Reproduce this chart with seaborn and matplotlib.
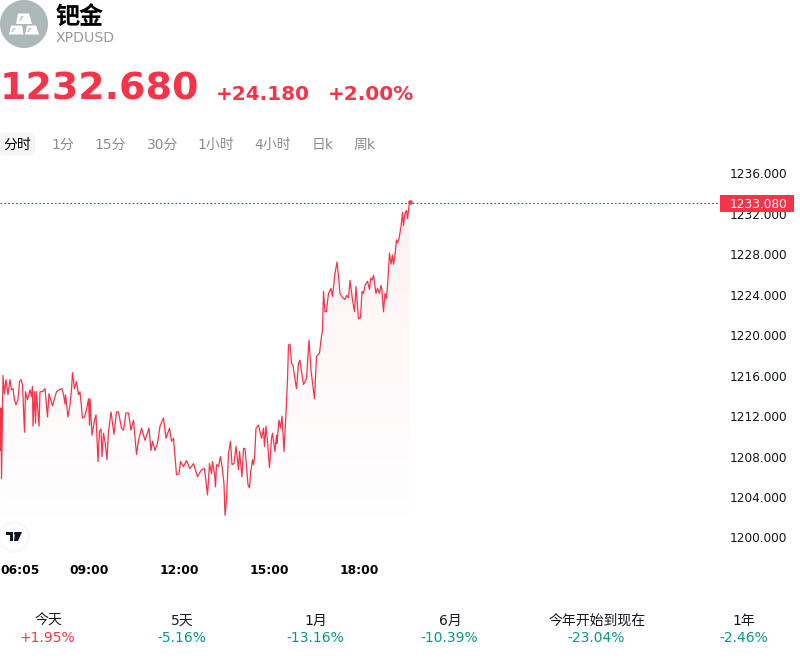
import numpy as np
import seaborn as sns
import matplotlib.pyplot as plt
from matplotlib.patches import Circle, FancyBboxPatch, Polygon, Rectangle
from matplotlib.colors import LinearSegmentedColormap

# minutes since midnight
minutes = [364, 365, 366, 369, 372, 375, 379, 383, 386, 389, 392, 395, 399, 402, 405, 408, 412, 414, 418, 423,
           426, 428, 429, 432, 434, 436, 441, 443, 448, 453, 458, 461, 468, 476, 482, 487, 490, 493, 494, 499,
           503, 506, 508, 512, 516, 520, 523, 528, 532, 536, 540, 542, 543, 547, 552, 555, 559, 562, 565, 567,
           570, 573, 577, 580, 585, 591, 596, 600, 606, 610, 615, 620, 625, 630, 636, 640, 646, 653, 661, 665,
           668, 673, 678, 683, 690, 695, 702, 706, 710, 716, 721, 724, 730, 736, 743, 750, 758, 766, 772, 778,
           782, 786, 788, 792, 794, 796, 800, 804, 808, 811, 813, 816, 820, 824, 827, 831, 835, 840, 842, 847,
           850, 853, 856, 859, 862, 864, 868, 870, 872, 875, 880, 886, 890, 892, 895, 898, 902, 906, 908, 913,
           916, 917, 921, 924, 927, 931, 935, 938, 940, 943, 946, 949, 953, 956, 960, 963, 966, 970, 976, 981,
           985, 992, 996, 1002, 1005, 1008, 1010, 1013, 1016, 1018, 1020, 1025, 1028, 1033, 1037, 1040, 1043,
           1048, 1053, 1056, 1060, 1063, 1066, 1068, 1072, 1075, 1080, 1084, 1087, 1090, 1093, 1098, 1102, 1104,
           1107, 1110, 1115, 1118, 1122, 1125, 1127, 1130, 1133, 1136, 1139, 1142, 1145, 1148, 1150, 1153, 1156,
           1158, 1161, 1165, 1168, 1170, 1173, 1176, 1178, 1182]
prices = [1208.6, 1212.8, 1205.8, 1216.0, 1214.2, 1215.6, 1214.1, 1215.6, 1214.6, 1214.7, 1213.6, 1213.1, 1213.6,
          1215.4, 1215.6, 1215.1, 1210.4, 1214.4, 1213.6, 1214.6, 1213.9, 1214.9, 1211.0, 1214.4, 1211.3, 1214.4,
          1211.0, 1214.4, 1214.4, 1214.7, 1211.9, 1214.2, 1213.0, 1214.4, 1214.6, 1214.7, 1214.1, 1213.2, 1214.1,
          1211.9, 1213.1, 1214.6, 1216.3, 1214.7, 1215.4, 1214.1, 1214.4, 1211.8, 1211.9, 1212.6, 1213.7, 1211.1,
          1213.7, 1210.1, 1211.6, 1212.1, 1207.5, 1210.5, 1210.7, 1208.0, 1210.3, 1209.5, 1207.7, 1210.5, 1212.4,
          1210.2, 1212.4, 1212.4, 1210.8, 1210.6, 1212.3, 1212.3, 1210.6, 1211.6, 1208.2, 1209.6, 1210.8, 1209.6,
          1210.8, 1208.6, 1209.5, 1208.6, 1209.3, 1211.0, 1211.8, 1209.8, 1210.8, 1209.5, 1209.8, 1206.2, 1206.3,
          1207.5, 1207.0, 1207.6, 1206.8, 1207.3, 1206.0, 1206.7, 1206.8, 1204.2, 1207.3, 1206.3, 1207.5, 1206.3,
          1205.0, 1207.2, 1207.0, 1208.0, 1206.7, 1205.3, 1202.2, 1203.7, 1208.3, 1209.5, 1207.2, 1207.3, 1209.0,
          1206.7, 1208.5, 1206.0, 1208.8, 1208.8, 1207.0, 1205.2, 1204.9, 1206.3, 1207.7, 1207.2, 1207.8, 1210.8,
          1211.1, 1209.8, 1210.8, 1209.0, 1211.0, 1209.5, 1206.9, 1209.8, 1210.3, 1208.5, 1210.1, 1209.3, 1211.6,
          1210.8, 1212.0, 1208.5, 1212.3, 1215.6, 1219.0, 1219.1, 1217.2, 1217.0, 1215.6, 1214.7, 1217.2, 1217.5,
          1216.4, 1215.1, 1215.7, 1219.5, 1216.5, 1213.7, 1217.9, 1218.2, 1219.5, 1220.5, 1224.3, 1222.3, 1222.3,
          1223.3, 1224.1, 1224.6, 1223.8, 1226.1, 1227.2, 1225.8, 1224.1, 1223.7, 1223.5, 1223.9, 1223.7, 1225.4,
          1224.3, 1223.5, 1222.3, 1224.8, 1221.6, 1221.7, 1224.3, 1224.1, 1224.9, 1225.3, 1224.5, 1225.6, 1225.4,
          1225.9, 1224.1, 1224.6, 1224.1, 1224.9, 1224.4, 1222.3, 1224.1, 1223.6, 1225.6, 1228.1, 1227.0, 1227.9,
          1227.0, 1227.9, 1229.4, 1229.1, 1229.5, 1230.7, 1232.1, 1230.8, 1232.0, 1232.3, 1231.5, 1233.1]

y_ticks = [1200, 1204, 1208, 1212, 1216, 1220, 1224, 1228, 1232, 1236]
x_ticks = [363, 541, 721, 901, 1081]
x_labels = ['06:05', '09:00', '12:00', '15:00', '18:00']
tabs = ['分时', '1分', '15分', '30分', '1小时', '4小时', '日k', '周k']
tab_x = [4, 52, 95, 147, 198, 255, 312, 354]
periods = ['今天', '5天', '1月', '6月', '今年开始到现在', '1年']
changes = ['+1.95%', '-5.16%', '-13.16%', '-10.39%', '-23.04%', '-2.46%']
period_x = [48, 182, 316, 450, 597, 744]
last_price = 1233.08

RED = '#f5344a'
GREEN = '#089981'
DARK = '#131722'

sns.set_theme(style='white')
plt.rcParams['font.family'] = ['DejaVu Sans', 'Noto Sans CJK SC']

fig = plt.figure(figsize=(8, 6.58), dpi=100)

# price chart: 2 minutes per pixel, 10.125 pixels per dollar
ax = fig.add_axes([0, 1 - 558 / 658, 1, (558 - 160) / 658])
ax.patch.set_alpha(0)
sns.lineplot(x=minutes, y=prices, ax=ax, color=RED, linewidth=0.9, errorbar=None, zorder=3)

# area under the line fades out towards the bottom
poly = ax.fill_between(minutes, prices, 1200, color='none')
fade = LinearSegmentedColormap.from_list('fade', [(0.961, 0.204, 0.29, 0.07), (0.961, 0.204, 0.29, 0.0)])
img = ax.imshow(np.linspace(0, 1, 256).reshape(-1, 1), cmap=fade, aspect='auto', origin='upper',
                extent=[363, 1182, 1200, 1233.1], zorder=2)
img.set_clip_path(poly.get_paths()[0], transform=ax.transData)
ax.set_xlim(363, 363 + 1600)
ax.set_ylim(1200 - 20.5 / 10.125, 1200 + 377.5 / 10.125)
ax.set_xlabel('')
ax.set_ylabel('')

ax.axhline(last_price, xmax=720 / 800, color='#8a3a45', linewidth=0.8, dashes=(1.5, 2), zorder=2)
ax.scatter([minutes[-1]], [prices[-1]], s=11, color=RED, zorder=4, linewidths=0)

ax.set_yticks(y_ticks)
ax.set_yticklabels([f'{v:.3f}' for v in y_ticks])
ax.yaxis.tick_right()
ax.tick_params(axis='y', length=0, pad=-50.6, labelsize=8.7, labelcolor=DARK)
ax.set_xticks(x_ticks)
ax.set_xticklabels(x_labels, fontweight='bold')
ax.tick_params(axis='x', length=0, pad=4.5, labelsize=8.8, labelcolor='black')
ax.get_xticklabels()[0].set_ha('left')
sns.despine(ax=ax, left=True, bottom=True, right=True, top=True)

# page furniture in pixel coordinates
ui = fig.add_axes([0, 0, 1, 1], zorder=5)
ui.set_xlim(0, 800)
ui.set_ylim(658, 0)
ui.axis('off')
ui.patch.set_alpha(0)

ui.add_patch(Circle((24, 24), 24, color='#adb8b8', lw=0))
for pts in ([(18, 13.5), (29, 13.5), (32, 24), (16, 24)], [(11, 25.5), (22, 25.5), (23.5, 34.5), (9, 34.5)],
            [(27, 25.5), (36, 25.5), (39, 34.5), (25, 34.5)]):
    ui.add_patch(Polygon(pts, closed=True, color='white', lw=0))
for pts in ([(21, 16), (24, 16), (21, 21), (19, 21)], [(13, 28), (16, 28), (13, 32), (11, 32)],
            [(29, 28), (32, 28), (29, 32), (27, 32)]):
    ui.add_patch(Polygon(pts, closed=True, color='#c9d0d0', lw=0))

ui.text(56, 17.5, '钯金', fontsize=17.3, fontweight='bold', color='black', va='center', family=['Noto Sans CJK SC'])
ui.text(56, 38.5, 'XPDUSD', fontsize=10.2, color='#999999', va='center')
ui.text(0, 89.5, '1232.680', fontsize=27.4, fontweight='bold', color=RED, va='center')
ui.text(216, 94, '+24.180', fontsize=14.4, fontweight='bold', color=RED, va='center')
ui.text(328, 94, '+2.00%', fontsize=14.4, fontweight='bold', color=RED, va='center')

ui.add_patch(FancyBboxPatch((1, 134), 33, 20, boxstyle='round,pad=0,rounding_size=3', color='#f5f5f5', lw=2))
for i, (t, x) in enumerate(zip(tabs, tab_x)):
    ui.text(x - 0.5, 145, t, fontsize=10, color='black' if i == 0 else '#8c8c8c', va='center')

# last price tag
ui.add_patch(Rectangle((720, 195), 74, 17, color=RED, lw=0))
ui.text(730, 204, f'{last_price:.3f}', fontsize=8.7, color='white', va='center')

# TradingView badge
for r, a in ((17, 0.006), (16, 0.008), (15, 0.01), (14, 0.012)):
    ui.add_patch(Circle((14, 537), r, color='black', alpha=a, lw=0))
ui.add_patch(Circle((14, 537), 13.5, color='white', lw=0))
ui.add_patch(Polygon([(6, 532), (13, 532), (13, 541), (10, 541), (10, 535), (6, 535)], closed=True, color=DARK, lw=0))
ui.add_patch(Polygon([(15, 532), (22, 532), (18, 541), (14, 541)], closed=True, color=DARK, lw=0))
ui.add_patch(Circle((15.5, 533.5), 1.5, color=DARK, lw=0))

for p, c, x in zip(periods, changes, period_x):
    ui.text(x, 621, p, fontsize=10, color=DARK, ha='center', va='center')
    ui.text(x - 0.5, 638.5, c, fontsize=10, color=RED if c.startswith('+') else GREEN, ha='center', va='center')

fig.savefig('out.png', dpi=100)
